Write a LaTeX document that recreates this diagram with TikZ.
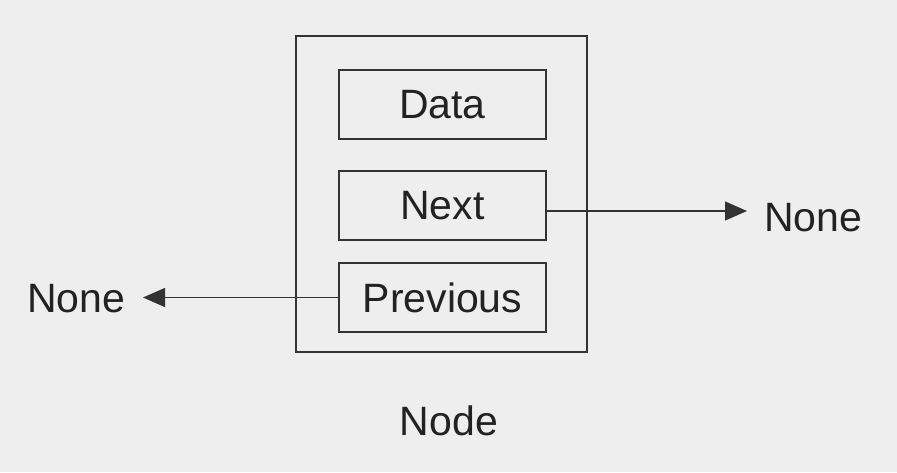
\documentclass[tikz,border=0pt]{standalone}
\usepackage{fontspec}
\setmainfont{Liberation Sans}
\usetikzlibrary{arrows.meta}
\definecolor{bg}{HTML}{EEEEEE}
\definecolor{ln}{HTML}{333333}
\definecolor{tx}{HTML}{222222}
\begin{document}
\begin{tikzpicture}[x=1pt,y=-1pt,
  field/.style={draw=ln, line width=1.3pt, minimum width=207pt, minimum height=69pt, inner sep=0pt, text=tx, font=\fontsize{41}{48}\selectfont},
  outerbox/.style={draw=ln, line width=1.3pt, minimum width=291pt, minimum height=316pt, inner sep=0pt},
  lbl/.style={inner sep=0pt, text=tx, font=\fontsize{41}{48}\selectfont},
  conn/.style={draw=ln, line width=1.3pt, -{Triangle[length=22pt,width=19pt]}}]
\useasboundingbox[fill=bg] (0,0) rectangle (897,472);
\node[outerbox] (outer) at (441.5,194) {};
\node[field] (data) at (442.5,104.5) {Data};
\node[field] (next) at (442.5,205.5) {Next};
\node[field] (prev) at (442.5,297.5) {Previous};
\node[lbl, anchor=base west] (noneR) at (764,231.5) {None};
\node[lbl, anchor=base west] (noneL) at (27,312.5) {None};
\node[lbl, anchor=base] (nodelbl) at (449,435) {Node};
\coordinate (nextout) at (546,211);
\coordinate (tipR) at (747,211);
\coordinate (tipL) at (143,297.5);
\draw[conn] (nextout) -- (tipR);
\draw[conn] (prev.west) -- (tipL);
\end{tikzpicture}
\end{document}
